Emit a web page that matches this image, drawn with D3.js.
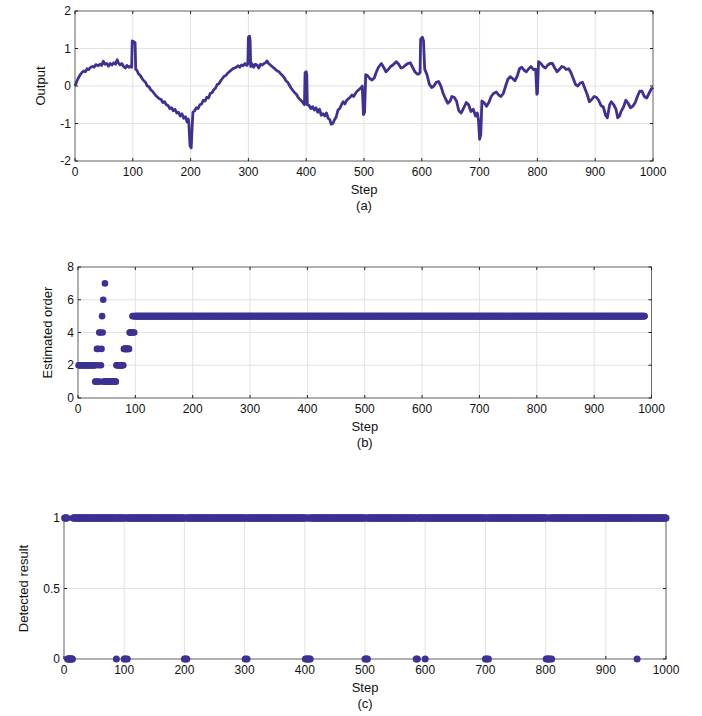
<!doctype html>
<html>
<head>
<meta charset="utf-8">
<script src="https://cdnjs.cloudflare.com/ajax/libs/d3/7.8.5/d3.min.js"></script>
<style>
body { margin: 0; background: #fff; }
svg { display: block; font-family: "Liberation Sans", Arial, sans-serif; }
.grid line { stroke: #e2e2e2; stroke-width: 1; }
.frame { fill: none; stroke: #6e6e6e; stroke-width: 1; }
.tk { stroke: #222; stroke-width: 1; }
.tlabel { font-size: 12px; fill: #111; }
.alabel { font-size: 13px; fill: #111; }
path.output { fill: none; stroke: #3d3193; stroke-width: 2.8; stroke-linejoin: round; }
circle.dot { fill: #3d3193; }
</style>
</head>
<body>
<svg width="702" height="716"></svg>
<script>
var stepTicks = [0, 100, 200, 300, 400, 500, 600, 700, 800, 900, 1000];

// (a) output
var stepA = [0,3,6,9,12,15,18,21,24,27,30,33,36,40,43,46,49,52,55,58,61,64,67,70,73,75,78,81,84,87,90,93,96,98,
  99,102,104,105,107,110,113,116,119,122,125,128,131,134,137,140,143,146,149,152,155,158,161,164,167,170,173,176,179,182,185,188,191,194,196,197,
  199,201,203,204,207,210,213,216,219,222,225,228,231,234,237,240,243,246,249,252,255,258,261,264,267,270,273,276,279,282,285,288,291,294,297,299,
  300,302,303,304,306,309,312,315,318,321,324,327,330,332,335,338,341,344,347,350,353,356,359,362,365,368,371,374,377,380,383,386,389,392,395,397,
  398,400,401,402,405,408,411,414,417,420,423,426,429,432,435,438,441,443,446,449,452,455,458,461,464,467,470,473,476,479,482,485,488,491,494,497,
  499,501,503,506,510,514,518,521,525,530,534,538,542,546,550,556,560,564,568,572,576,580,584,588,592,595,597,
  598,601,603,605,609,613,617,621,625,629,633,637,641,645,649,652,656,660,664,668,672,677,681,685,689,693,696,698,
  700,702,704,708,712,716,720,724,729,733,737,741,745,749,753,757,761,765,769,773,777,781,785,789,793,797,
  799,800,802,806,810,814,818,822,826,830,834,838,842,846,850,854,858,862,866,870,874,878,882,886,890,894,898,
  902,906,910,914,918,921,925,928,932,936,939,942,945,949,953,957,961,965,969,973,977,981,985,989,993,997,1000];
var outputA = [0,0.12,0.22,0.3,0.36,0.4,0.38,0.46,0.44,0.5,0.52,0.5,0.57,0.54,0.58,0.55,0.66,0.58,0.6,0.53,0.6,0.56,0.62,0.58,0.7,0.62,0.56,0.6,0.52,0.48,0.55,0.5,0.53,0.5,
  1.2,1.18,1.15,0.45,0.42,0.32,0.28,0.2,0.14,0.1,0,-0.02,-0.1,-0.14,-0.2,-0.26,-0.3,-0.34,-0.36,-0.44,-0.42,-0.5,-0.52,-0.6,-0.58,-0.66,-0.62,-0.72,-0.7,-0.8,-0.74,-0.86,-0.82,-0.96,-0.88,-1.0,
  -1.6,-1.65,-1.0,-0.7,-0.66,-0.58,-0.6,-0.5,-0.48,-0.38,-0.4,-0.3,-0.32,-0.2,-0.18,-0.1,-0.06,0.04,0.06,0.14,0.2,0.26,0.28,0.34,0.38,0.42,0.46,0.48,0.5,0.54,0.5,0.56,0.54,0.6,0.55,0.58,
  1.3,1.33,1.2,0.52,0.6,0.5,0.58,0.56,0.48,0.58,0.56,0.6,0.62,0.67,0.6,0.56,0.52,0.48,0.44,0.4,0.38,0.32,0.28,0.22,0.14,0.1,0.02,-0.06,-0.12,-0.18,-0.22,-0.3,-0.36,-0.4,-0.46,-0.5,
  0.35,0.38,0.3,-0.5,-0.52,-0.6,-0.55,-0.64,-0.58,-0.7,-0.62,-0.78,-0.74,-0.8,-0.72,-0.86,-0.9,-1.02,-1.0,-0.9,-0.82,-0.64,-0.6,-0.5,-0.42,-0.48,-0.38,-0.34,-0.3,-0.24,-0.28,-0.2,-0.14,-0.1,-0.06,0,
  -0.76,-0.7,0.3,0.28,0.2,0.16,0.22,0.36,0.5,0.6,0.5,0.38,0.44,0.52,0.56,0.65,0.58,0.48,0.5,0.56,0.6,0.62,0.5,0.38,0.32,0.32,0.36,
  1.25,1.3,1.2,0.45,0.3,0.05,-0.04,0,0.1,0.12,0,-0.2,-0.34,-0.46,-0.4,-0.28,-0.3,-0.4,-0.66,-0.72,-0.6,-0.44,-0.5,-0.68,-0.62,-0.8,-0.72,-0.9,
  -1.42,-1.3,-0.4,-0.45,-0.54,-0.44,-0.28,-0.2,-0.16,-0.24,-0.28,-0.2,0,0.18,0.25,0.2,0.14,0.26,0.46,0.5,0.42,0.38,0.46,0.52,0.44,0.45,
  -0.22,-0.2,0.65,0.6,0.52,0.48,0.56,0.6,0.6,0.48,0.38,0.44,0.52,0.5,0.44,0.46,0.36,0.2,0.04,0,0.08,0.1,-0.06,-0.22,-0.42,-0.36,-0.28,
  -0.3,-0.38,-0.52,-0.56,-0.78,-0.85,-0.5,-0.42,-0.5,-0.62,-0.85,-0.8,-0.67,-0.56,-0.38,-0.46,-0.58,-0.54,-0.45,-0.28,-0.14,-0.14,-0.28,-0.32,-0.2,-0.08,-0.04];

// (b) estimated order for steps 1..100, then a constant run
var orderEarly = [2,2,2,2,2,2,2,2,2,2,2,2,2,2,2,2,2,2,2,2,2,2,2,2,2,2,2,2,2,
  1,2,1,3,1,3,2,4,1,4,2,3,5,4,6,1,1,7,
  1,1,1,1,1,1,1,1,1,1,1,1,1,1,1,1,1,1,1,
  2,2,2,2,2,2,2,2,2,2,2,2,2,
  3,3,3,3,3,3,3,3,3,3,
  4,4,4,4,4,5,4,5,4,
  5,5];
var orderLate = { from: 101, to: 988, value: 5 };

// (c) detected result: steps where it is 0, every other step is 1
var zeroSteps = [6,7,8,9,10,11,12,13,14, 87, 100,102,105, 200,202,204,
  301,304, 401,403,405,407,409, 500,502,504, 585,587, 600,
  700,702,705, 801,803,805,807,810, 952];
var lastStepC = 1000;

var svg = d3.select("svg");

function panel(c) {
  var g = svg.append("g");
  var x = d3.scaleLinear().domain([0, 1000]).range([c.left, c.right]);
  var y = d3.scaleLinear().domain(c.yDomain).range([c.bottom, c.top]);

  var grid = g.append("g").attr("class", "grid");
  grid.selectAll("line.v").data(stepTicks).enter().append("line")
    .attr("x1", function (d) { return x(d); }).attr("x2", function (d) { return x(d); })
    .attr("y1", c.top).attr("y2", c.bottom);
  grid.selectAll("line.h").data(c.yTicks).enter().append("line")
    .attr("x1", c.left).attr("x2", c.right)
    .attr("y1", function (d) { return y(d); }).attr("y2", function (d) { return y(d); });

  g.append("rect").attr("class", "frame")
    .attr("x", c.left).attr("y", c.top)
    .attr("width", c.right - c.left).attr("height", c.bottom - c.top);

  // little inward ticks on all four sides
  stepTicks.forEach(function (d) {
    g.append("line").attr("class", "tk").attr("x1", x(d)).attr("x2", x(d)).attr("y1", c.bottom).attr("y2", c.bottom - 3);
    g.append("line").attr("class", "tk").attr("x1", x(d)).attr("x2", x(d)).attr("y1", c.top).attr("y2", c.top + 3);
  });
  c.yTicks.forEach(function (d) {
    g.append("line").attr("class", "tk").attr("x1", c.left).attr("x2", c.left + 3).attr("y1", y(d)).attr("y2", y(d));
    g.append("line").attr("class", "tk").attr("x1", c.right).attr("x2", c.right - 3).attr("y1", y(d)).attr("y2", y(d));
  });

  g.selectAll("text.xt").data(stepTicks).enter().append("text")
    .attr("class", "tlabel").attr("text-anchor", "middle")
    .attr("x", function (d) { return x(d); }).attr("y", c.bottom + 11).attr("dy", "0.35em")
    .text(function (d) { return d; });
  g.selectAll("text.yt").data(c.yTicks).enter().append("text")
    .attr("class", "tlabel").attr("text-anchor", "end")
    .attr("x", c.left - 4).attr("y", function (d) { return y(d); }).attr("dy", "0.35em")
    .text(function (d) { return d; });

  g.append("text").attr("class", "alabel").attr("text-anchor", "middle")
    .attr("x", (c.left + c.right) / 2).attr("y", c.bottom + 28).attr("dy", "0.35em").text("Step");
  g.append("text").attr("class", "alabel").attr("text-anchor", "middle")
    .attr("x", (c.left + c.right) / 2).attr("y", c.bottom + 44).attr("dy", "0.35em").text(c.tag);
  g.append("text").attr("class", "alabel").attr("text-anchor", "middle")
    .attr("transform", "translate(" + c.ylabX + "," + ((c.top + c.bottom) / 2) + ") rotate(-90)")
    .attr("dy", "0.35em").text(c.ylabel);

  return { g: g, x: x, y: y };
}

// (a)
var pa = panel({ left: 75, right: 653, top: 11, bottom: 161, yDomain: [-2, 2], yTicks: [-2, -1, 0, 1, 2],
  ylabel: "Output", ylabX: 40, tag: "(a)" });
var line = d3.line()
  .x(function (d, i) { return pa.x(stepA[i]); })
  .y(function (d) { return pa.y(d); });
pa.g.append("path").attr("class", "output").attr("d", line(outputA));

// (b)
var pb = panel({ left: 78, right: 651.5, top: 267, bottom: 398, yDomain: [0, 8], yTicks: [0, 2, 4, 6, 8],
  ylabel: "Estimated order", ylabX: 47, tag: "(b)" });
var orderPts = orderEarly.map(function (v, i) { return [i + 1, v]; });
for (var s = orderLate.from; s <= orderLate.to; s++) orderPts.push([s, orderLate.value]);
pb.g.selectAll("circle.dot").data(orderPts).enter().append("circle")
  .attr("class", "dot").attr("r", 3.3)
  .attr("cx", function (d) { return pb.x(d[0]); })
  .attr("cy", function (d) { return pb.y(d[1]); });

// (c)
var pc = panel({ left: 64, right: 666, top: 518, bottom: 659, yDomain: [0, 1], yTicks: [0, 0.5, 1],
  ylabel: "Detected result", ylabX: 23, tag: "(c)" });
var detPts = d3.range(1, lastStepC + 1).map(function (s) { return [s, zeroSteps.indexOf(s) >= 0 ? 0 : 1]; });
pc.g.selectAll("circle.dot").data(detPts).enter().append("circle")
  .attr("class", "dot").attr("r", 3.5)
  .attr("cx", function (d) { return pc.x(d[0]); })
  .attr("cy", function (d) { return pc.y(d[1]); });
</script>
</body>
</html>
